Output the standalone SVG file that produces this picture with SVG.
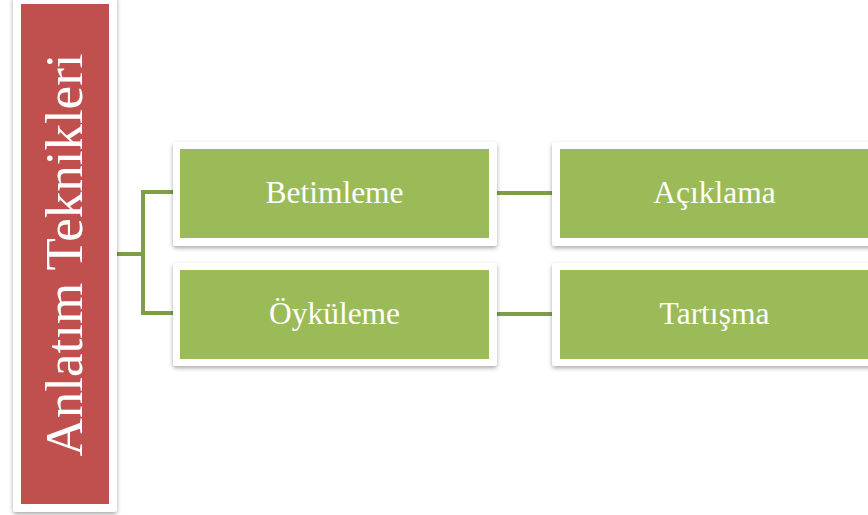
<svg xmlns="http://www.w3.org/2000/svg" width="868" height="515" viewBox="0 0 868 515">
  <style>
    .frame { fill: #ffffff; filter: url(#shadow); }
    .red { fill: #C0504D; }
    .green { fill: #9BBB59; }
    .label { font-family: "Liberation Serif", "Times New Roman", serif; fill: #ffffff; text-anchor: middle; }
    .conn { fill: none; stroke: #7E9E48; stroke-width: 4; }
  </style>
  <defs>
    <filter id="shadow" x="-10%" y="-10%" width="120%" height="130%">
      <feDropShadow dx="0" dy="2" stdDeviation="2" flood-color="#000000" flood-opacity="0.35"/>
    </filter>
  </defs>
  <rect width="868" height="515" fill="#ffffff"/>

  <g id="connectors">
    <path class="conn" d="M117 254 H143 M143 192 V313 M141 192 H175 M141 313 H175"/>
    <path class="conn" d="M495 193 H554"/>
    <path class="conn" d="M495 314 H554"/>
  </g>

  <g id="root">
    <rect class="frame" x="13" y="-4" width="104" height="516" rx="3"/>
    <rect class="red" x="21" y="4" width="88" height="500"/>
    <text class="label" font-size="53" transform="translate(82 255) rotate(-90)">Anlatım Teknikleri</text>
  </g>

  <g id="betimleme">
    <rect class="frame" x="173" y="142" width="324" height="104" rx="3"/>
    <rect class="green" x="180" y="149" width="309" height="89"/>
    <text class="label" x="334.5" y="203" font-size="31.5">Betimleme</text>
  </g>

  <g id="oykuleme">
    <rect class="frame" x="173" y="263" width="324" height="103" rx="3"/>
    <rect class="green" x="180" y="270" width="309" height="89"/>
    <text class="label" x="334.5" y="324" font-size="31.5">Öyküleme</text>
  </g>

  <g id="aciklama">
    <rect class="frame" x="552" y="142" width="324" height="104" rx="3"/>
    <rect class="green" x="560" y="149" width="309" height="89"/>
    <text class="label" x="714.5" y="203" font-size="31.5">Açıklama</text>
  </g>

  <g id="tartisma">
    <rect class="frame" x="552" y="263" width="324" height="103" rx="3"/>
    <rect class="green" x="560" y="270" width="309" height="89"/>
    <text class="label" x="714.5" y="324" font-size="31.5">Tartışma</text>
  </g>
</svg>
